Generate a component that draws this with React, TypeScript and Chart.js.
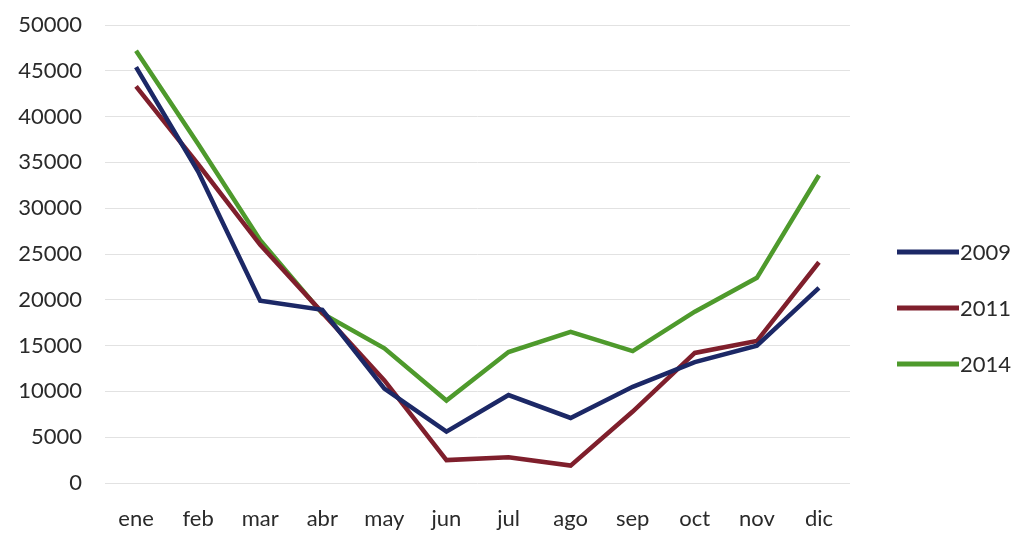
import React, { useEffect, useRef } from "react";
import { Chart, registerables } from "chart.js";

Chart.register(...registerables);

const months = ["ene", "feb", "mar", "abr", "may", "jun", "jul", "ago", "sep", "oct", "nov", "dic"];
const series2009 = [45400, 34000, 19900, 18900, 10300, 5600, 9600, 7100, 10500, 13200, 15000, 21300];
const series2011 = [43300, 34800, 26000, 18600, 11200, 2500, 2800, 1900, 7800, 14200, 15500, 24100];
const series2014 = [47200, 37000, 26500, 18500, 14700, 9000, 14300, 16500, 14400, 18700, 22400, 33600];
const seriesNames = ["2009", "2011", "2014"];
const seriesColors = ["#1c2866", "#7f1f2c", "#4e9a2c"];
const yTicks = [0, 5000, 10000, 15000, 20000, 25000, 30000, 35000, 40000, 45000, 50000];

const FONT = "Lato, 'Open Sans', sans-serif";

const customLegend = {
  id: "customLegend",
  afterDraw(chart: any) {
    const { ctx, chartArea } = chart;
    const x0 = chartArea.right + 47;
    const lineW = 62;
    const spacing = 56;
    const cy = 308;
    const n = chart.data.datasets.length;
    ctx.save();
    chart.data.datasets.forEach((ds: any, i: number) => {
      const y = cy + (i - (n - 1) / 2) * spacing;
      ctx.strokeStyle = ds.borderColor;
      ctx.lineWidth = 5;
      ctx.lineCap = "butt";
      ctx.beginPath();
      ctx.moveTo(x0, y);
      ctx.lineTo(x0 + lineW, y);
      ctx.stroke();
      ctx.fillStyle = "#2a2a2a";
      ctx.font = `22px ${FONT}`;
      ctx.textAlign = "left";
      ctx.textBaseline = "middle";
      ctx.fillText(ds.label, x0 + lineW + 1, y + 1);
    });
    ctx.restore();
  },
};

export default function App() {
  const ref = useRef<HTMLCanvasElement | null>(null);

  useEffect(() => {
    if (!ref.current) return;
    const data = [series2009, series2011, series2014];
    const chart = new Chart(ref.current, {
      type: "line",
      data: {
        labels: months,
        datasets: data.map((d, i) => ({
          label: seriesNames[i],
          data: d,
          borderColor: seriesColors[i],
          backgroundColor: seriesColors[i],
          borderWidth: 4.5,
          pointRadius: 0,
          tension: 0,
          fill: false,
        })),
      },
      options: {
        animation: false,
        responsive: false,
        layout: { padding: { top: 25, right: 170, left: 0, bottom: 0 } },
        plugins: {
          legend: { display: false },
          tooltip: { enabled: false },
        },
        scales: {
          x: {
            offset: true,
            grid: { display: false, drawTicks: false },
            border: { display: false },
            ticks: {
              color: "#2a2a2a",
              font: { family: FONT, size: 22 },
              padding: 23,
              maxRotation: 0,
            },
            afterFit(scale: any) {
              scale.height = 52;
            },
          },
          y: {
            min: 0,
            max: 50000,
            afterBuildTicks(scale: any) {
              scale.ticks = yTicks.map((v) => ({ value: v }));
            },
            grid: { color: "#e2e2e2", lineWidth: 1, drawTicks: false },
            border: { display: false },
            ticks: {
              color: "#2a2a2a",
              font: { family: FONT, size: 22 },
              padding: 23,
              callback: (v: any) => String(v),
            },
            afterFit(scale: any) {
              scale.width = 105;
              scale.paddingTop = 0;
              scale.paddingBottom = 0;
            },
          },
        },
      },
      plugins: [customLegend],
    });
    return () => chart.destroy();
  }, []);

  return (
    <div style={{ position: "fixed", left: 0, top: 0, width: 1020, height: 535, background: "#fff" }}>
      <canvas ref={ref} width={1020} height={535} style={{ display: "block", width: 1020, height: 535 }} />
    </div>
  );
}
